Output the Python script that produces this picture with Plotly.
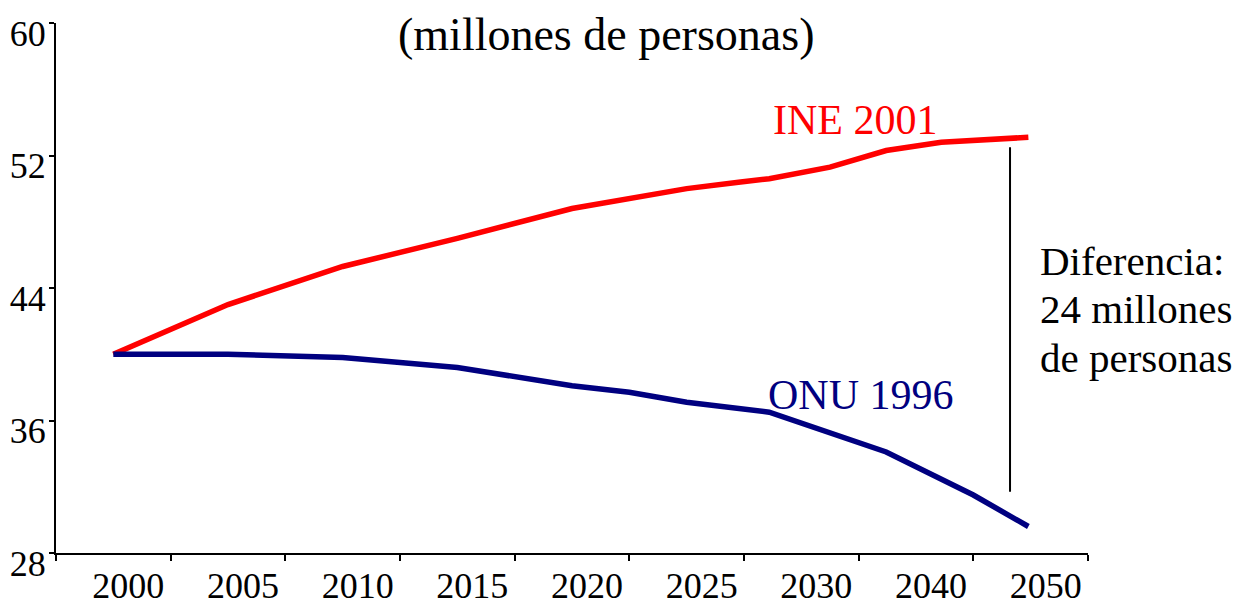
import plotly.graph_objects as go

# Tick labels along the x axis (one label per interval, not evenly spaced in years).
years = ["2000", "2005", "2010", "2015", "2020", "2025", "2030", "2040", "2050"]

# Position of each vertex along the axis, measured in label intervals.
ine_pos = [0, 1, 2, 3, 4, 5, 5.47, 5.72, 6.25, 6.74, 7.22, 7.98]
ine_vals = [40.0, 43.0, 45.3, 47.0, 48.8, 50.0, 50.4, 50.6, 51.3, 52.3, 52.8, 53.1]

onu_pos = [0, 1, 2, 3, 4, 4.5, 5, 5.72, 6.74, 7.5, 7.98]
onu_vals = [40.0, 40.0, 39.8, 39.2, 38.1, 37.7, 37.1, 36.5, 34.1, 31.5, 29.6]

# Vertical bracket showing the gap in 2050.
gap_pos = 7.82
gap_top, gap_bottom = 52.5, 31.7

yticks = [28, 36, 44, 52, 60]

serif = "Liberation Serif"
tick_font = dict(family=serif, size=36, color="black")

fig = go.Figure()
fig.add_trace(go.Scatter(x=ine_pos, y=ine_vals, mode="lines",
                         line=dict(color="#ff0000", width=5.5), name="INE 2001"))
fig.add_trace(go.Scatter(x=onu_pos, y=onu_vals, mode="lines",
                         line=dict(color="#000080", width=5.5), name="ONU 1996"))

fig.add_shape(type="line", x0=gap_pos, x1=gap_pos, y0=gap_bottom, y1=gap_top,
              line=dict(color="black", width=2))

fig.add_annotation(x=6.47, y=54.15, text="INE 2001", showarrow=False,
                   font=dict(color="#ff0000", size=42, family=serif))
fig.add_annotation(x=6.52, y=37.55, text="ONU 1996", showarrow=False,
                   font=dict(color="#000080", size=42, family=serif))
for i, line in enumerate(["Diferencia:", "24 millones", "de personas"]):
    fig.add_annotation(xref="paper", yref="paper", x=1.0, y=(553 - 261 - 48.5 * i) / 530,
                       xanchor="left", xshift=-50, yanchor="middle", text=line,
                       showarrow=False, font=dict(color="black", size=41, family=serif))
fig.add_annotation(xref="paper", yref="paper", x=(606 - 56) / 1032, y=(553 - 35) / 530,
                   xanchor="center", yanchor="middle", text="(millones de personas)",
                   showarrow=False, font=dict(color="black", size=46, family=serif))

n = len(years)
# The page body adds an 8px margin, so the figure is sized to fill the rest of the window.
fig.update_layout(
    width=1235, height=599,
    margin=dict(l=48, r=155, t=15, b=54, autoexpand=False),
    paper_bgcolor="white", plot_bgcolor="white",
    showlegend=False,
    font=dict(family=serif, color="black", size=36),
    xaxis=dict(range=[-0.5, n - 0.5], tickvals=list(range(n)), ticktext=years,
               ticks="outside", ticklen=0, ticklabelshift=15, tickfont=tick_font,
               automargin=False,
               minor=dict(tickvals=[k - 0.5 for k in range(n + 1)], ticks="outside",
                          ticklen=6, tickcolor="black", tickwidth=1.5),
               showline=True, linecolor="black", linewidth=2, showgrid=False,
               zeroline=False),
    yaxis=dict(range=[28, 60], tickvals=yticks, ticks="outside", ticklen=5,
               tickcolor="black", tickwidth=1.5, ticklabelshift=10, tickfont=tick_font,
               ticklabelstandoff=-4, automargin=False,
               showline=True, linecolor="black", linewidth=2, showgrid=False,
               zeroline=False),
)

fig.write_html("out.html")
